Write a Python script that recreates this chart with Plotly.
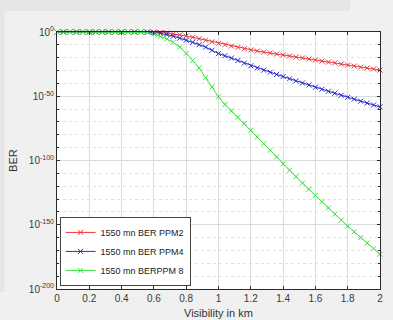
import plotly.graph_objects as go

visibility_km = [round(0.04 * i, 2) for i in range(51)]

# log10(BER)
ber_ppm2_log = [0]*14 + [-0.05, -0.15, -0.4, -0.8, -1.4, -2.2, -3.1, -4.1, -5.2, -6.4, -7.6,
                         -8.8, -9.9, -11.0, -12.0, -13.0, -14.0, -14.8, -15.6, -16.3, -17.1,
                         -17.9, -18.7, -19.5, -20.2, -21.0, -21.8, -22.6, -23.4, -24.1, -24.9,
                         -25.7, -26.5, -27.3, -28.0, -28.8, -29.6]
ber_ppm4_log = [0]*14 + [-0.1, -0.4, -1.0, -2.0, -3.3, -4.8, -6.4, -8.0, -9.8, -11.8, -14.2,
                         -16.8, -18.5, -20.3, -22.2, -24.2, -26.3, -28.0, -29.7, -31.3, -33.0,
                         -34.7, -36.4, -38.0, -39.7, -41.3, -43.0, -44.6, -46.1, -47.7, -49.2,
                         -50.8, -52.3, -53.8, -55.3, -56.8, -58.3]
ber_ppm8_log = [0]*14 + [-0.5, -1.5, -3.4, -5.4, -8.0, -11.8, -16.6, -22.2, -28.0, -35.6, -42.8,
                         -50.4, -56.4, -61.4, -66.4, -71.2, -76.5, -81.7, -86.9, -92.0, -97.3,
                         -102.6, -107.6, -112.6, -117.6, -122.5, -127.3, -132.1, -136.9, -141.7,
                         -146.4, -151.0, -155.5, -159.9, -164.3, -168.6, -172.9]

series_names = ["1550 mn BER PPM2", "1550 mn BER PPM4", "1550 mn BERPPM 8"]
series_colors = ["#e8383c", "#2a2acc", "#3ee23e"]

x_ticks = [0, 0.2, 0.4, 0.6, 0.8, 1, 1.2, 1.4, 1.6, 1.8, 2]
x_ticklabels = ["0", "0.2", "0.4", "0.6", "0.8", "1", "1.2", "1.4", "1.6", "1.8", "2"]
y_tick_exps = [0, -50, -100, -150, -200]

fig = go.Figure()
for logs, name, col in zip([ber_ppm2_log, ber_ppm4_log, ber_ppm8_log], series_names, series_colors):
    fig.add_trace(go.Scatter(
        x=visibility_km, y=[10.0 ** v for v in logs], name=name, mode="lines+markers",
        line=dict(color=col, width=1),
        marker=dict(symbol="x-thin", size=5, line=dict(color=col, width=1)),
        cliponaxis=False,
    ))

font_family = "Liberation Sans, Arial, sans-serif"
axis_common = dict(showline=True, linecolor="#2b2b2b", linewidth=1, mirror="allticks",
                   ticks="inside", ticklen=3, tickcolor="#2b2b2b",
                   gridcolor="#dcdcdc", gridwidth=1, zeroline=False,
                   tickfont=dict(family=font_family, size=10, color="#3a3a3a"))

fig.update_layout(
    width=393, height=320,
    margin=dict(l=57, r=10, t=32, b=31),
    paper_bgcolor="#f0f0f0", plot_bgcolor="white",
    font=dict(family=font_family, size=10, color="#333"),
    xaxis=dict(range=[0, 2], tickvals=x_ticks, ticktext=x_ticklabels, **axis_common),
    yaxis=dict(type="log", range=[-200, 0],
               tickvals=[10.0 ** e for e in y_tick_exps],
               ticktext=["10<sup>%d</sup>" % e for e in y_tick_exps],
               minor=dict(tickvals=[10.0 ** e for e in range(-190, 0, 10)], ticks="inside",
                          ticklen=2, tickcolor="#2b2b2b", showgrid=True,
                          gridcolor="#e2e2e2", griddash="dot"),
               **axis_common),
    legend=dict(x=0.008, y=0.012, xanchor="left", yanchor="bottom",
                bgcolor="white", bordercolor="#444", borderwidth=1,
                font=dict(family=font_family, size=9, color="#222"),
                tracegroupgap=0, itemwidth=30),
    shapes=[
        dict(type="rect", xref="paper", yref="paper", x0=-0.18, x1=0.908, y0=1.0817, y1=1.13,
             fillcolor="#e6e6e6", line_width=0, layer="below"),
        dict(type="rect", xref="paper", yref="paper", x0=-0.18, x1=-0.1626, y0=-0.0117, y1=1.13,
             fillcolor="#e6e6e6", line_width=0, layer="below"),
    ],
    annotations=[
        dict(text="BER", xref="paper", yref="paper", x=-0.138, y=0.5, textangle=-90,
             xanchor="center", yanchor="middle",
             showarrow=False, font=dict(family=font_family, size=11, color="#333")),
        dict(text="Visibility in km", xref="paper", yref="paper", x=0.5, y=-0.095,
             xanchor="center", yanchor="middle", showarrow=False,
             font=dict(family=font_family, size=11, color="#333")),
    ],
)

fig.write_html("out.html")
